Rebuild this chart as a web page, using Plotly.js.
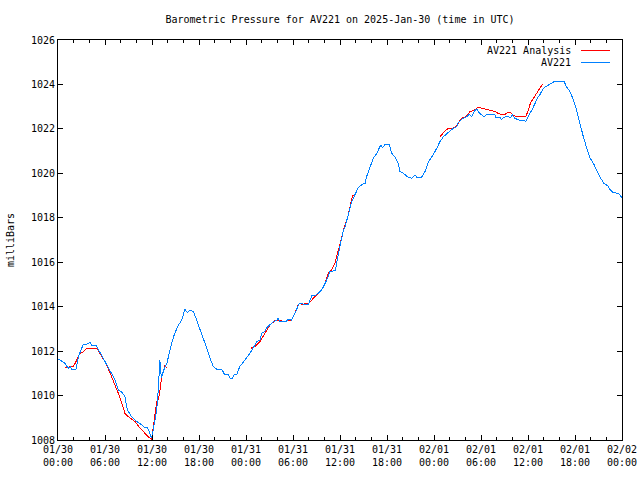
<!DOCTYPE html>
<html>
<head>
<meta charset="utf-8">
<script src="https://cdn.plot.ly/plotly-3.0.1.min.js"></script>
<style>html,body{margin:0;padding:0;background:#fff}#chart{width:640px;height:480px}
#chart .scatterlayer path, #chart .layer-above path, #chart .layer-below path { shape-rendering: crispEdges; }
</style>
</head>
<body>
<div id="chart"></div>
<script>
// Hours after 2025-01-30 00:00 UTC, and pressure (mbar)
var stationHours = [0,0.26,0.9,1.3,1.6,1.75,2.3,2.6,3.2,3.6,4.1,4.3,4.9,5.4,6.0,6.6,7.3,7.7,8.1,8.55,8.85,9.4,10.05,10.7,11.1,11.45,11.75,11.95,12.15,12.6,12.8,13.0,13.2,13.5,13.9,14.5,14.9,15.4,15.8,16.2,16.5,16.85,17.3,17.7,18.1,18.55,19.0,19.4,19.8,20.26,20.9,21.3,21.7,21.96,22.3,22.47,22.8,23.2,23.66,24.1,24.5,24.9,25.4,25.8,26.0,26.4,26.6,27.1,27.5,27.9,28.1,28.3,29.1,29.4,29.8,30.25,30.5,30.8,31.5,32.0,32.4,32.8,33.2,33.66,34.1,34.5,34.7,35.4,35.8,36.2,36.4,36.64,36.85,37.06,37.5,37.9,38.3,38.8,39.2,39.4,39.8,40.25,40.7,41.2,41.45,41.75,42.3,42.6,43.0,43.45,43.66,44.1,44.7,45.15,45.57,45.8,46.4,46.85,47.3,47.9,48.35,48.77,49.2,49.6,50.04,50.46,50.9,51.1,51.5,52.2,52.5,52.8,53.2,53.5,53.8,54.1,54.4,54.75,55.0,55.8,55.9,56.4,56.6,57.1,57.5,57.7,58.0,58.3,58.7,59.0,59.75,60.0,60.5,60.9,61.3,61.5,61.96,62.4,62.8,63.2,63.45,64.6,64.9,65.36,65.8,66.2,66.6,67.06,67.5,67.9,68.35,68.8,69.2,69.7,70.2,70.5,70.9,71.55,72.0];
var stationPressure = [1011.62,1011.6,1011.45,1011.23,1011.3,1011.18,1011.18,1011.75,1012.28,1012.3,1012.38,1012.25,1012.23,1011.9,1011.52,1011.15,1010.7,1010.25,1010.17,1009.95,1009.35,1009.05,1008.83,1008.68,1008.55,1008.55,1008.3,1008.08,1008.45,1009.35,1010.25,1011.6,1010.78,1011.15,1011.45,1012.35,1012.8,1013.18,1013.4,1013.88,1013.73,1013.85,1013.78,1013.4,1013.03,1012.65,1012.13,1011.68,1011.33,1011.18,1011.18,1010.93,1010.97,1010.78,1010.78,1010.93,1010.93,1011.3,1011.52,1011.68,1011.9,1012.13,1012.43,1012.5,1012.8,1012.88,1013.03,1013.2,1013.33,1013.37,1013.48,1013.33,1013.33,1013.43,1013.4,1013.7,1013.93,1014.15,1014.1,1014.12,1014.5,1014.5,1014.6,1014.75,1015.05,1015.35,1015.58,1015.62,1016.4,1017.15,1017.38,1017.6,1017.83,1018.13,1018.73,1019.03,1019.33,1019.5,1019.55,1019.85,1020.23,1020.68,1020.9,1021.28,1021.15,1021.3,1021.3,1020.9,1020.75,1020.45,1020.08,1020.0,1019.82,1019.78,1019.93,1019.82,1019.82,1020.08,1020.53,1020.83,1021.13,1021.43,1021.65,1021.77,1021.92,1022.03,1022.1,1022.28,1022.43,1022.55,1022.67,1022.55,1022.82,1022.9,1022.7,1022.63,1022.55,1022.67,1022.63,1022.63,1022.52,1022.52,1022.43,1022.55,1022.55,1022.48,1022.63,1022.48,1022.43,1022.37,1022.35,1022.55,1022.85,1023.18,1023.45,1023.53,1023.83,1023.93,1024.02,1024.08,1024.15,1024.15,1023.9,1023.68,1023.3,1022.85,1022.25,1021.65,1021.13,1020.7,1020.45,1020.1,1019.82,1019.55,1019.43,1019.25,1019.13,1019.1,1018.9];

var analysisHours = [0.9,1.96,2.4,2.8,3.2,3.66,4.94,5.36,6.0,6.4,6.85,7.28,7.7,8.13,8.55,8.98,9.4,9.83,10.25,10.7,11.1,11.5,11.96,12.15,12.4,12.6,12.8,13.0,13.2,13.45,13.66,13.88,
  18.0,
  24.64,25.1,25.8,26.4,27.06,27.7,28.3,29.0,29.3,29.8,30.25,30.56,30.8,31.1,32.0,32.4,33.0,33.66,34.1,34.5,34.9,35.36,35.66,36.0,36.35,36.64,37.06,37.28,37.5,37.7,
  43.0,
  48.7,49.2,49.6,50.0,50.46,50.8,51.1,51.5,51.96,52.6,53.0,53.66,54.1,54.7,55.15,55.8,56.2,56.7,57.1,57.4,57.8,58.1,58.55,59.0,59.75,60.05,60.3,60.7,61.1,61.5,61.87];
var analysisPressure = [1011.27,1011.3,1011.6,1011.9,1011.95,1012.13,1012.13,1011.9,1011.52,1011.23,1010.85,1010.48,1010.1,1009.65,1009.2,1009.05,1008.93,1008.83,1008.63,1008.45,1008.3,1008.15,1008.03,1008.45,1009.2,1009.73,1009.8,1010.18,1010.78,1011.08,1011.38,1011.23,
  null,
  1012.13,1012.2,1012.43,1012.8,1013.18,1013.37,1013.37,1013.33,1013.4,1013.4,1013.7,1014.0,1014.15,1014.1,1014.15,1014.3,1014.53,1014.78,1015.05,1015.5,1015.65,1015.95,1016.37,1016.78,1017.3,1017.68,1018.13,1018.5,1018.88,1019.03,
  null,
  1021.62,1021.83,1021.98,1022.03,1022.03,1022.1,1022.28,1022.48,1022.52,1022.78,1022.82,1022.97,1022.93,1022.88,1022.85,1022.78,1022.7,1022.63,1022.66,1022.73,1022.73,1022.63,1022.55,1022.55,1022.58,1022.85,1023.15,1023.38,1023.6,1023.83,1024.02];

var seriesNames = ["AV221 Analysis", "AV221"];
var seriesColors = ["#ff0000", "#0080ff"];

var T0 = Date.UTC(2025, 0, 30, 0, 0, 0);
function toTime(hs){ return hs.map(function(h){ return T0 + h*3600000; }); }

var FONT = "DejaVu Sans Mono, Liberation Mono, monospace";

var traces = [
  {x: toTime(analysisHours), y: analysisPressure, type: "scatter", mode: "lines", name: seriesNames[0],
   line: {color: seriesColors[0], width: 1}, connectgaps: false},
  {x: toTime(stationHours), y: stationPressure, type: "scatter", mode: "lines", name: seriesNames[1],
   line: {color: seriesColors[1], width: 1}}
];

var layout = {
  width: 640, height: 480,
  margin: {l: 58, r: 18, t: 40, b: 40, pad: 0},
  paper_bgcolor: "#ffffff", plot_bgcolor: "#ffffff",
  font: {family: FONT, size: 10, color: "#000"},
  showlegend: false,
  title: {text: "Barometric Pressure for AV221 on 2025-Jan-30 (time in UTC)",
          x: 0.5, xref: "paper", xanchor: "center", y: 1 - 19/480, yanchor: "middle", yref: "container",
          font: {family: FONT, size: 10, color: "#000"}},
  xaxis: {
    type: "date",
    range: [T0, T0 + 72*3600000],
    tickmode: "linear", tick0: T0, dtick: 6*3600000,
    tickformat: "%m/%d<br>%H:%M",
    ticks: "inside", ticklen: 5, tickcolor: "#000", tickwidth: 1,
    minor: {dtick: 2*3600000, tick0: T0, ticks: "inside", ticklen: 3, tickcolor: "#000", showgrid: false},
    showline: true, linecolor: "#000", linewidth: 1, mirror: "allticks",
    showgrid: false, zeroline: false,
    tickfont: {family: FONT, size: 10, color: "#000"}
  },
  yaxis: {
    range: [1008, 1026],
    tickmode: "linear", tick0: 1008, dtick: 2,
    ticks: "inside", ticklen: 5, tickcolor: "#000", tickwidth: 1,
    showline: true, linecolor: "#000", linewidth: 1, mirror: "allticks",
    showgrid: false, zeroline: false,
    tickfont: {family: FONT, size: 10, color: "#000"},
    title: {text: "milliBars", font: {family: FONT, size: 10, color: "#000"}, standoff: 14}
  },
  annotations: [
    {xref: "paper", yref: "paper", x: 0.913, y: 1 - (50.5-40)/400, xanchor: "right", yanchor: "middle",
     text: seriesNames[0], showarrow: false, font: {family: FONT, size: 10, color: "#000"}},
    {xref: "paper", yref: "paper", x: 0.913, y: 1 - (62.5-40)/400, xanchor: "right", yanchor: "middle",
     text: seriesNames[1], showarrow: false, font: {family: FONT, size: 10, color: "#000"}}
  ],
  shapes: [
    {type: "line", xref: "paper", yref: "paper", x0: (581-58)/564, x1: (610-58)/564,
     y0: 1 - (50.5-40)/400, y1: 1 - (50.5-40)/400, line: {color: seriesColors[0], width: 1}},
    {type: "line", xref: "paper", yref: "paper", x0: (581-58)/564, x1: (610-58)/564,
     y0: 1 - (62.5-40)/400, y1: 1 - (62.5-40)/400, line: {color: seriesColors[1], width: 1}}
  ]
};

Plotly.newPlot("chart", traces, layout, {staticPlot: true, displayModeBar: false});
</script>
</body>
</html>
